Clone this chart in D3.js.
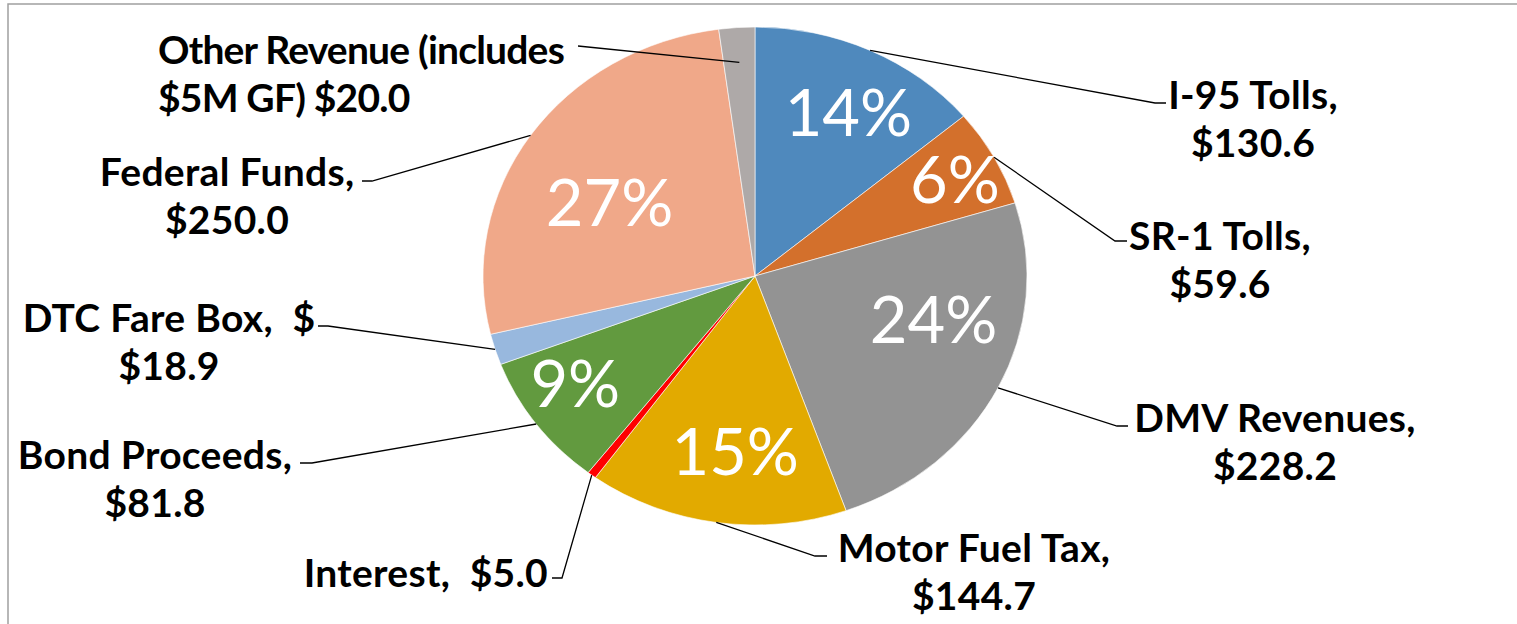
<!DOCTYPE html>
<html>
<head>
<meta charset="utf-8">
<script src="https://cdn.jsdelivr.net/npm/d3@7"></script>
<style>
    body { margin: 0; background: #fff; }
    svg text { font-family: Lato, "Noto Sans", sans-serif; white-space: pre; }
</style>
</head>
<body>
<svg width="1517" height="624"></svg>
<script>
    // revenue sources ($M), clockwise from 12 o'clock
    const categories = ["I-95 Tolls", "SR-1 Tolls", "DMV Revenues", "Motor Fuel Tax", "Interest",
                        "Bond Proceeds", "DTC Fare Box", "Federal Funds", "Other Revenue"];
    const values = [130.6, 59.6, 228.2, 144.7, 5.0, 81.8, 18.9, 250.0, 20.0];
    const colors = ["#4f89bd", "#d3702c", "#939393", "#e2aa00", "#ff0000",
                    "#629a3f", "#98b8de", "#f0a889", "#aea9a8"];
    const labelLines = [
        ["I-95 Tolls,", "$130.6"],
        ["SR-1 Tolls,", "$59.6"],
        ["DMV Revenues,", "$228.2"],
        ["Motor Fuel Tax,", "$144.7"],
        ["Interest,  $5.0"],
        ["Bond Proceeds,", "$81.8"],
        ["DTC Fare Box,  $", "$18.9"],
        ["Federal Funds,", "$250.0"],
        ["Other Revenue (includes", "$5M GF) $20.0"]
    ];

    // where the outside labels sit and where their leader lines bend
    const labelPos = [
        {x: 1253, y: 95,  anchor: "middle", elbow: [1155, 103, 1166]},
        {x: 1220, y: 236, anchor: "middle", elbow: [1115, 241, 1127]},
        {x: 1275, y: 418, anchor: "middle", elbow: [1117, 426, 1128]},
        {x: 974,  y: 548, anchor: "middle", elbow: [815, 556, 827]},
        {x: 548,  y: 573, anchor: "end",    elbow: [562, 578, 552]},
        {x: 155,  y: 455, anchor: "middle", elbow: [312, 463, 300]},
        {x: 169,  y: 318, anchor: "middle", elbow: [328, 326, 318]},
        {x: 227,  y: 172, anchor: "middle", elbow: [372, 181, 362]},
        {x: 158,  y: 50,  anchor: "start",  elbow: [578, 46, 578], r: 0.86, ls: -0.8}
    ];
    // percent labels: radius fraction and angle nudge (deg)
    const pctPos = [
        {f: 0.74, da: 2.6}, {f: 0.83, da: 0.8}, {f: 0.68, da: -11.6}, {f: 0.71, da: -2.3}, null,
        {f: 0.79, da: 3.2}, null, {f: 0.61, da: -5.6}, null
    ];

    const svg = d3.select("svg");
    const cx = 755, cy = 276, rx = 272, ry = 249;
    const total = d3.sum(values);
    const lineH = 48;

    // frame (only top and left edges are visible)
    svg.append("path")
        .attr("d", "M8,624V4H1517")
        .attr("fill", "none")
        .attr("stroke", "#a0a0a0")
        .attr("stroke-width", 1.5);

    const pie = d3.pie().sort(null).value(d => d);
    const arcs = pie(values);
    const arc = d3.arc().innerRadius(0).outerRadius(ry);

    // the pie is a bit wider than tall
    const g = svg.append("g")
        .attr("transform", `translate(${cx},${cy}) scale(${rx / ry},1)`);

    g.selectAll("path.slice")
        .data(arcs)
        .enter()
        .append("path")
        .attr("class", "slice")
        .attr("d", arc)
        .attr("fill", (d, i) => colors[i])
        .attr("stroke", "#fff")
        .attr("stroke-width", 0.6)
        .attr("vector-effect", "non-scaling-stroke");

    function pt(angle, f) {
        return [cx + Math.sin(angle) * rx * f, cy - Math.cos(angle) * ry * f];
    }

    // percent labels inside the big slices
    const fmt = d3.format(".0%");
    arcs.forEach((d, i) => {
        const p = pctPos[i];
        if (!p) return;
        const mid = (d.startAngle + d.endAngle) / 2 + p.da * Math.PI / 180;
        const [x, y] = pt(mid, p.f);
        svg.append("text")
            .attr("x", x)
            .attr("y", y + 23)
            .attr("text-anchor", "middle")
            .attr("fill", "#fff")
            .attr("font-size", 65)
            .text(fmt(values[i] / total));
    });

    // leader lines
    arcs.forEach((d, i) => {
        const L = labelPos[i];
        const mid = (d.startAngle + d.endAngle) / 2;
        const [ax, ay] = pt(mid, L.r || 1);
        svg.append("path")
            .attr("d", `M${ax},${ay}L${L.elbow[0]},${L.elbow[1]}H${L.elbow[2]}`)
            .attr("fill", "none")
            .attr("stroke", "#000")
            .attr("stroke-width", 1.3);
    });

    // category labels
    labelLines.forEach((lines, i) => {
        const L = labelPos[i];
        const t = svg.append("text")
            .attr("text-anchor", L.anchor)
            .attr("font-weight", "bold")
            .attr("font-size", 39)
            .attr("letter-spacing", L.ls != null ? L.ls : 0.3)
            .attr("fill", "#000");
        lines.forEach((s, j) => {
            t.append("tspan")
                .attr("x", L.x)
                .attr("y", L.y + 14 + j * lineH)
                .text(s);
        });
    });
</script>
</body>
</html>
